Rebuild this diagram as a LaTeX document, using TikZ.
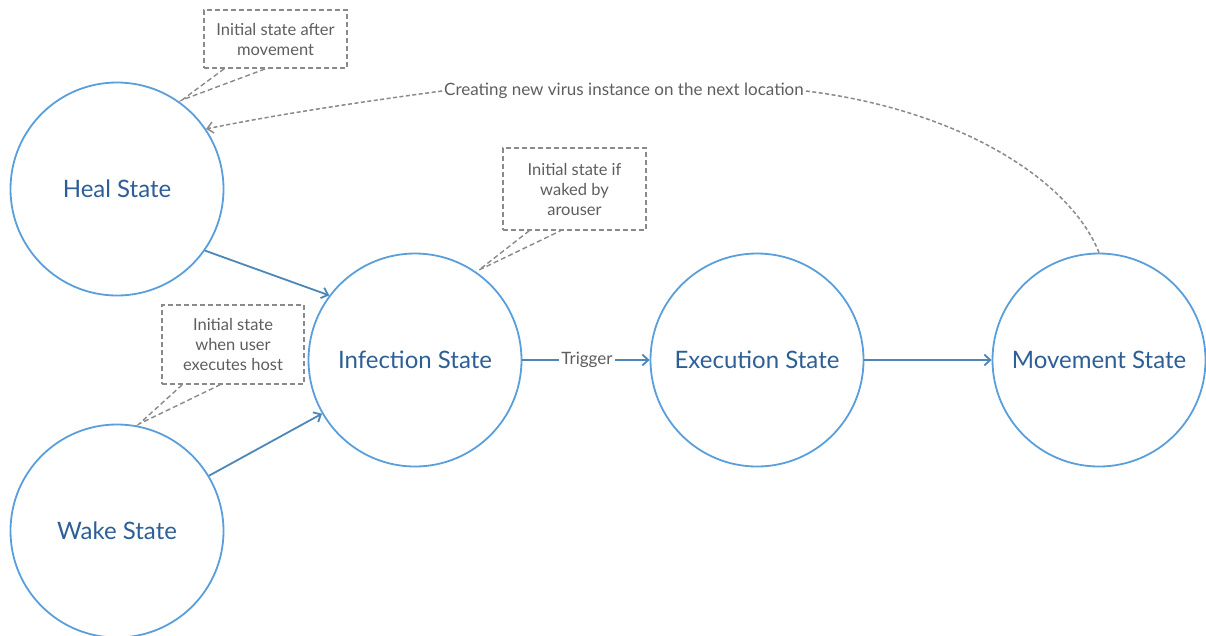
\documentclass[tikz,border=0pt]{standalone}
\usepackage{fontspec}
\setmainfont{Lato}
\usetikzlibrary{arrows.meta,positioning}
\definecolor{ringblue}{HTML}{5A9FDB}
\definecolor{statetext}{HTML}{2D5F96}
\definecolor{notegray}{HTML}{8A8A8A}
\definecolor{notetext}{HTML}{5E5E5E}
\tikzset{
  x=1pt, y=-1pt,
  state/.style={circle, draw=ringblue, line width=1.8pt, minimum size=213pt,
    inner sep=0pt, text=statetext, font=\fontsize{24}{28}\selectfont},
  flow/.style={draw=ringblue!85!black, line width=1.8pt,
    -{Straight Barb[length=6pt,width=11pt,line width=1.8pt]}},
  note/.style={draw=notegray, dashed, dash pattern=on 5pt off 3pt, line width=1.6pt,
    fill=white, text=notetext, align=center, font=\fontsize{16.5}{20}\selectfont},
  tail/.style={draw=notegray, dashed, dash pattern=on 5pt off 3pt, line width=1.4pt},
  jump/.style={draw=notegray, dashed, dash pattern=on 4pt off 2.5pt, line width=1.5pt},
}
\begin{document}
\begin{tikzpicture}
\useasboundingbox (0,0) rectangle (1206,635);

% states
\node[state] (heal) at (117,189) {Heal State};
\node[state] (wake) at (117,531) {Wake State};
\node[state] (inf)  at (415,360) {Infection State};
\node[state] (exec) at (757,360) {Execution State};
\node[state] (mov)  at (1099,360) {Movement State};

% transitions
\draw[flow] (heal.-35) -- (inf.143);
\draw[flow] (wake.31) -- (inf.-150);
\node[fill=white, text=notetext, inner sep=2pt, font=\fontsize{17}{19}\selectfont] (trig) at (587,360) {Trigger};
\draw[draw=ringblue!85!black, line width=1.8pt] (inf.east) -- (trig.west);
\draw[flow] (trig.east) -- (exec.west);
\draw[flow] (exec.east) -- (mov.west);

% migration back to the heal state
\node[text=notetext, inner sep=2pt, font=\fontsize{17}{19}\selectfont] (newinst) at (624,91) {Creating new virus instance on the next location};
\draw[jump] (mov.north) .. controls (1070,180) and (960,110) .. (newinst.east);
\draw[jump, -{Straight Barb[length=6pt,width=11pt,line width=1.5pt]}] (newinst.west) .. controls (360,102) and (280,114) .. (heal.34);

% notes with callout tails
\node[note, minimum width=143pt, minimum height=58pt] (n1) at (275.5,39) {Initial state after\\movement};
\coordinate (t1) at (182,100);
\draw[tail] (n1.south west) ++(21,0) -- (t1) -- ([xshift=-10pt]n1.south);
\node[note, minimum width=143pt, minimum height=82pt] (n2) at (574.5,189) {Initial state if\\waked by\\arouser};
\coordinate (t2) at (479,270);
\draw[tail] (n2.south west) ++(27,0) -- (t2) -- ([xshift=-14pt]n2.south);
\node[note, minimum width=142pt, minimum height=79pt] (n3) at (233,344.5) {Initial state\\when user\\executes host};
\coordinate (t3) at (139,424);
\draw[tail] (n3.south west) ++(21,0) -- (t3) -- ([xshift=-13pt]n3.south);
\end{tikzpicture}
\end{document}
